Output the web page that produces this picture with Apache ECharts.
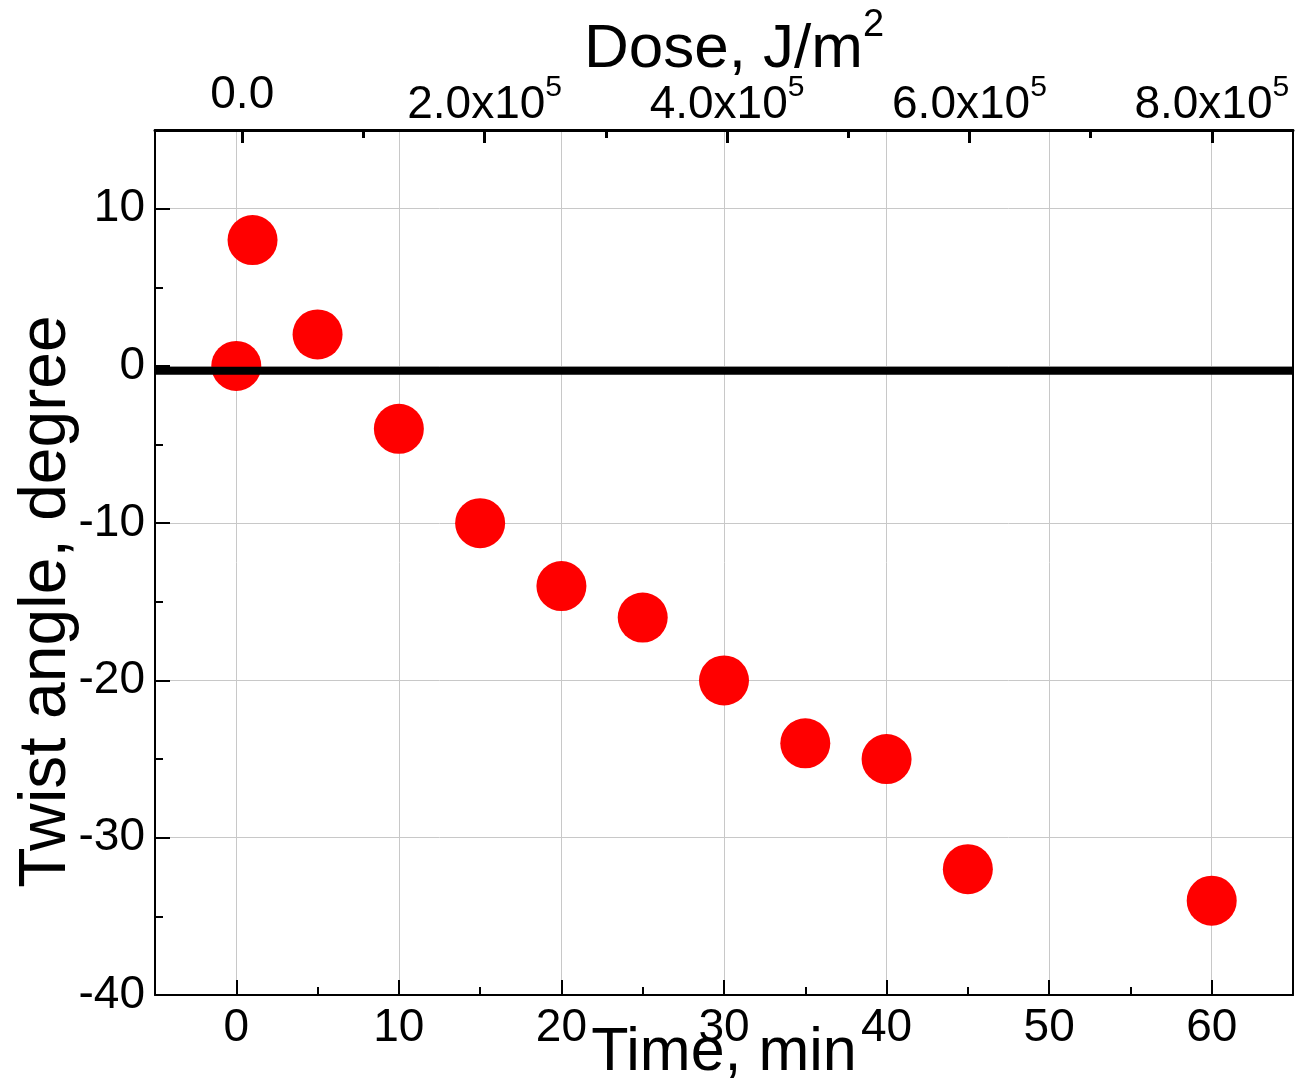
<!DOCTYPE html>
<html>
<head>
<meta charset="utf-8">
<title>Twist angle vs time</title>
<script src="https://cdn.jsdelivr.net/npm/echarts@6/dist/echarts.min.js"></script>
<style>
  html, body { margin: 0; padding: 0; background: #fff; }
  #chart { width: 1295px; height: 1083px; }
</style>
</head>
<body>
<div id="chart"></div>
<script>
// data
const timeMin = [0, 1, 5, 10, 15, 20, 25, 30, 35, 40, 45, 60];
const twistDeg = [0, 8, 2, -4, -10, -14, -16, -20, -24, -25, -32, -34];
const zeroLineX = [-5, 65];
const zeroLineY = [-0.3, -0.3];

const timeTicks = [0, 10, 20, 30, 40, 50, 60];
const timeMinorTicks = [5, 15, 25, 35, 45, 55];
const angleTicks = [-40, -30, -20, -10, 0, 10];
const angleMinorTicks = [-35, -25, -15, -5, 5];
const doseTicks = [0, 200000, 400000, 600000, 800000];
const doseMinorTicks = [100000, 300000, 500000, 700000];
const doseLabels = ['0.0', '2.0x10', '4.0x10', '6.0x10', '8.0x10'];

const FONT = '"Liberation Sans", Arial, sans-serif';

const chart = echarts.init(document.getElementById('chart'));

const scatterData = timeMin.map((t, i) => [t, twistDeg[i]]);
const zeroLine = zeroLineX.map((x, i) => [x, zeroLineY[i]]);

const option = {
  backgroundColor: '#fff',
  animation: false,
  grid: { left: 155, right: 2, top: 130, bottom: 88, outerBoundsMode: 'none', containLabel: false },
  xAxis: [
    {
      // bottom time axis with labels, major ticks and grid lines
      type: 'value',
      position: 'bottom',
      min: -5,
      max: 65,
      splitNumber: 7,
      name: 'Time, min',
      nameLocation: 'middle',
      nameGap: 28,
      nameMoveOverlap: false,
      nameTextStyle: { fontFamily: FONT, fontSize: 61, color: '#000' },
      axisLine: { onZero: false, lineStyle: { color: '#000', width: 2 } },
      axisTick: { inside: true, length: 15, lineStyle: { color: '#000', width: 2 }, customValues: timeTicks },
      axisLabel: { fontFamily: FONT, fontSize: 46, color: '#000', margin: 10, customValues: timeTicks },
      splitLine: { show: true, lineStyle: { color: '#c8c8c8', width: 1 } }
    },
    {
      // bottom minor ticks
      type: 'value',
      position: 'bottom',
      min: -5,
      max: 65,
      axisLine: { show: false, onZero: false },
      axisTick: { inside: true, length: 8, lineStyle: { color: '#000', width: 2 }, customValues: timeMinorTicks },
      axisLabel: { show: false },
      splitLine: { show: false }
    },
    {
      // top dose axis
      type: 'value',
      position: 'top',
      min: -72000,
      max: 867000,
      splitNumber: 5,
      name: '{a|Dose, J/m}{s|2}',
      nameLocation: 'middle',
      nameGap: 49,
      nameMoveOverlap: false,
      nameTextStyle: {
        padding: [0, 0, 0, 20],
        rich: {
          a: { fontFamily: FONT, fontSize: 62, color: '#000', verticalAlign: 'bottom' },
          s: { fontFamily: FONT, fontSize: 38, color: '#000', verticalAlign: 'top', padding: [0, 0, 36, 0] }
        }
      },
      axisLine: { onZero: false, lineStyle: { color: '#000', width: 3 } },
      axisTick: { inside: true, length: 13, lineStyle: { color: '#000', width: 3 }, customValues: doseTicks },
      axisLabel: {
        margin: 2,
        customValues: doseTicks,
        formatter: function (v) {
          const i = doseTicks.indexOf(v);
          if (i < 0) return '';
          if (i === 0) return '{z|' + doseLabels[i] + '}';
          return '{a|' + doseLabels[i] + '}{s|5}';
        },
        rich: {
          z: { fontFamily: FONT, fontSize: 46, color: '#000', padding: [0, 0, 10, 0] },
          a: { fontFamily: FONT, fontSize: 46, color: '#000', verticalAlign: 'bottom' },
          s: { fontFamily: FONT, fontSize: 30, color: '#000', verticalAlign: 'top', padding: [0, 0, 25, 0] }
        }
      },
      splitLine: { show: false }
    },
    {
      // top minor ticks
      type: 'value',
      position: 'top',
      min: -72000,
      max: 867000,
      axisLine: { show: false, onZero: false },
      axisTick: { inside: true, length: 8, lineStyle: { color: '#000', width: 3 }, customValues: doseMinorTicks },
      axisLabel: { show: false },
      splitLine: { show: false }
    }
  ],
  yAxis: [
    {
      type: 'value',
      position: 'left',
      min: -40,
      max: 15,
      interval: 10,
      name: 'Twist angle, degree',
      nameLocation: 'middle',
      nameRotate: 90,
      nameGap: 75,
      nameMoveOverlap: false,
      nameTextStyle: { fontFamily: FONT, fontSize: 66, color: '#000', padding: [0, 78, 0, 0] },
      axisLine: { onZero: false, lineStyle: { color: '#000', width: 2 } },
      axisTick: { inside: true, length: 15, lineStyle: { color: '#000', width: 2 }, customValues: angleTicks },
      axisLabel: { fontFamily: FONT, fontSize: 46, color: '#000', margin: 10, customValues: angleTicks },
      splitLine: { show: true, lineStyle: { color: '#c8c8c8', width: 1 } }
    },
    {
      // left minor ticks
      type: 'value',
      position: 'left',
      min: -40,
      max: 15,
      interval: 10,
      axisLine: { show: false, onZero: false },
      axisTick: { inside: true, length: 8, lineStyle: { color: '#000', width: 2 }, customValues: angleMinorTicks },
      axisLabel: { show: false },
      splitLine: { show: false }
    },
    {
      // right frame line
      type: 'value',
      position: 'right',
      min: -40,
      max: 15,
      axisLine: { show: true, onZero: false, lineStyle: { color: '#000', width: 2 } },
      axisTick: { show: false },
      axisLabel: { show: false },
      splitLine: { show: false }
    }
  ],
  series: [
    {
      type: 'scatter',
      xAxisIndex: 0,
      yAxisIndex: 0,
      data: scatterData,
      symbol: 'circle',
      symbolSize: 50,
      itemStyle: { color: '#ff0000', opacity: 1 },
      z: 2
    },
    {
      type: 'line',
      xAxisIndex: 0,
      yAxisIndex: 0,
      data: zeroLine,
      symbol: 'none',
      lineStyle: { color: '#000', width: 8 },
      z: 3
    }
  ]
};

chart.setOption(option);
</script>
</body>
</html>
